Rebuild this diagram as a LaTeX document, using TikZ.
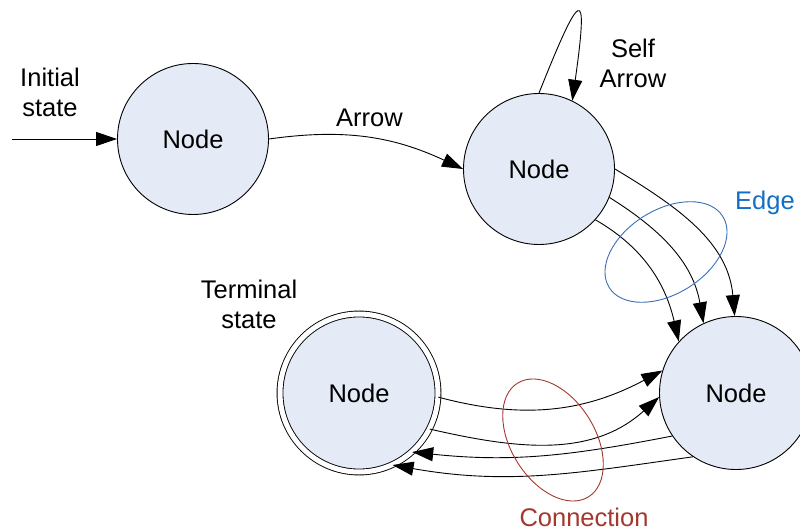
\documentclass[tikz,border=0pt]{standalone}
\usepackage{fontspec}
\setmainfont{Liberation Sans}
\usetikzlibrary{arrows.meta}
\definecolor{nodefill}{HTML}{E5EBF6}
\definecolor{edgeblue}{HTML}{3D6FB6}
\definecolor{edgetext}{HTML}{1170C4}
\definecolor{connred}{HTML}{A4382E}
\begin{document}
\begin{tikzpicture}[x=1pt,y=1pt,line width=0.9pt,
  font=\fontsize{25.5}{30}\selectfont,
  state/.style={circle,draw=black,fill=nodefill,minimum size=151pt,inner sep=0pt},
  termstate/.style={state,double=white,double distance=5pt,minimum size=158pt},
  arr/.style={-{Triangle[length=21pt,width=14pt]}},
  lbl/.style={align=center,inner sep=0pt}]
\useasboundingbox (0,0) rectangle (800,530);
\fill[white] (0,0) rectangle (800,530);

\node[state] (n1) at (193,391) {Node};
\node[state] (n2) at (539,361) {Node};
\node[state,minimum size=153pt] (n3) at (736,137) {Node};
\node[termstate] (nt) at (359,137) {Node};

\node[lbl] (initlbl) at (50,438) {Initial\\state};
\node[lbl] (selflbl) at (633,467) {Self\\Arrow};
\node[lbl] (termlbl) at (249,226) {Terminal\\state};
\node[lbl,anchor=base] (arrlbl) at (369.5,403) {Arrow};
\node[lbl,anchor=base,text=edgetext] (edgelbl) at (765,320) {Edge};
\node[lbl,anchor=base,text=connred] (connlbl) at (584,4) {Connection};

\coordinate (init) at (12,391);
\draw[arr] (init) -- (n1.180);
\draw[arr] (n1.0) to[out=8,in=155] (n2.180);
\draw[arr] (n2.90) .. controls +(41,103) and +(17,120) .. (n2.64);

\draw[arr] (n2.0) to[out=-31,in=95] (n3.91);
\draw[arr] (n2.-22) to[out=-32,in=100] (n3.115);
\draw[arr] (n2.-42) to[out=-30,in=103] (n3.138);

\draw[arr] (nt.-3) to[out=-15,in=-152] (n3.163);
\draw[arr] (nt.-27) to[out=-13,in=-138] (n3.183);
\draw[arr] (n3.214) to[out=191,in=-6] (nt.-48);
\draw[arr] (n3.236) to[out=188,in=-10] (nt.-65);

\draw[edgeblue,rotate around={32:(666,278)}] (666,278) ellipse (67pt and 42pt);
\draw[connred,rotate around={-58:(553,90)}] (553,90) ellipse (67pt and 42pt);
\end{tikzpicture}
\end{document}
